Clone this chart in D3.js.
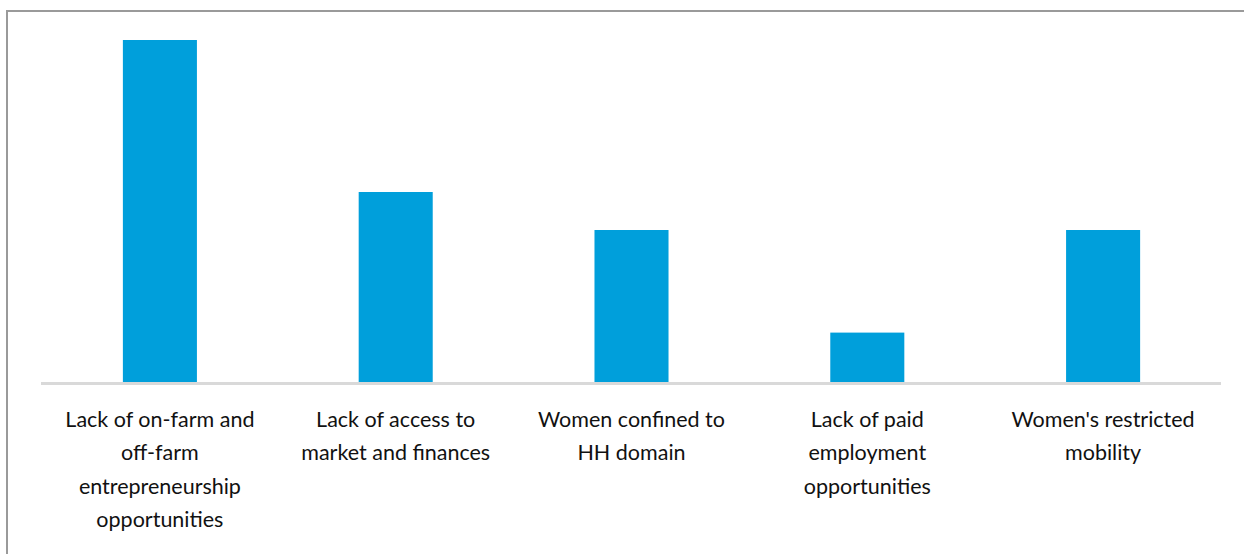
<!DOCTYPE html>
<html>
<head>
<meta charset="utf-8">
<script src="https://cdn.jsdelivr.net/npm/d3@7/dist/d3.min.js"></script>
<style>
  html, body { margin: 0; padding: 0; background: #fff; }
  svg { display: block; }
</style>
</head>
<body>
<svg id="chart" width="1244" height="554"></svg>
<script>
// Constraints to women's economic participation
const categories = [
  ["Lack of on-farm and", "off-farm", "entrepreneurship", "opportunities"],
  ["Lack of access to", "market and finances"],
  ["Women confined to", "HH domain"],
  ["Lack of paid", "employment", "opportunities"],
  ["Women's restricted", "mobility"]
];
const values = [45, 25, 20, 6.5, 20];

const svg = d3.select("#chart");
const W = 1244, H = 554;

// Chart frame (open on the right and bottom edges of the view)
svg.append("rect")
  .attr("x", 7).attr("y", 11)
  .attr("width", W + 20).attr("height", H + 20)
  .attr("fill", "#fff")
  .attr("stroke", "#9a9a9a")
  .attr("stroke-width", 2);

const plot = { left: 41, right: 1221, top: 40, bottom: 382 };

const x = d3.scaleBand()
  .domain(d3.range(categories.length))
  .range([plot.left + 1, plot.right])
  .paddingInner(0.686)
  .paddingOuter(0.343);

const y = d3.scaleLinear()
  .domain([0, 45])
  .range([plot.bottom, plot.top]);

// Bars
svg.append("g").selectAll("rect")
  .data(values)
  .join("rect")
  .attr("x", (d, i) => x(i))
  .attr("y", d => y(d))
  .attr("width", x.bandwidth())
  .attr("height", d => y(0) - y(d))
  .attr("fill", "#009fdb");

// Category axis line
svg.append("line")
  .attr("x1", plot.left).attr("x2", plot.right)
  .attr("y1", y(0) + 1.5).attr("y2", y(0) + 1.5)
  .attr("stroke", "#d9d9d9")
  .attr("stroke-width", 3);

// Wrapped category labels
const labels = svg.append("g")
  .attr("font-family", "Lato, 'Noto Sans', sans-serif")
  .attr("font-size", 21.5)
  .attr("fill", "#111")
  .attr("text-anchor", "middle");

categories.forEach((lines, i) => {
  const cx = x(i) + x.bandwidth() / 2;
  const t = labels.append("text")
    .attr("x", cx)
    .attr("y", 427);
  lines.forEach((ln, j) => {
    t.append("tspan")
      .attr("x", cx)
      .attr("dy", j === 0 ? 0 : 33.3)
      .text(ln);
  });
});
</script>
</body>
</html>
